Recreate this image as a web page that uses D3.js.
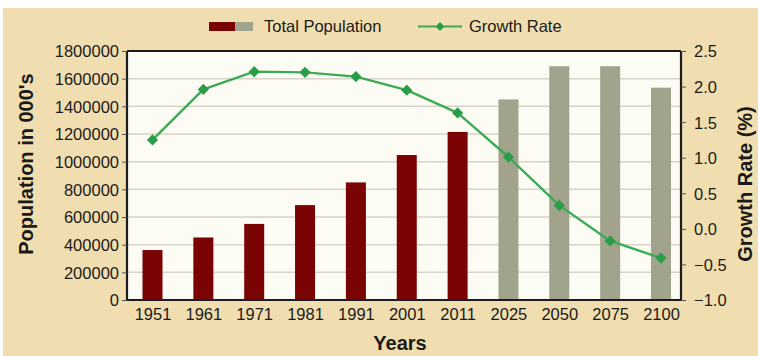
<!DOCTYPE html>
<html>
<head>
<meta charset="utf-8">
<script src="https://cdn.jsdelivr.net/npm/d3@7"></script>
<style>
  html, body { margin: 0; padding: 0; background: #ffffff; }
  svg { display: block; font-family: "Liberation Sans", Arial, sans-serif; }
</style>
</head>
<body>
<svg id="chart" width="758" height="356"></svg>
<script>
// Census years and projections
const years = ["1951", "1961", "1971", "1981", "1991", "2001", "2011", "2025", "2050", "2075", "2100"];
// Total population in thousands
const population = [361000, 452000, 550000, 686000, 850000, 1048000, 1215000, 1450000, 1690000, 1690000, 1535000];
// Annual growth rate in percent
const growthRate = [1.25, 1.96, 2.21, 2.20, 2.14, 1.95, 1.63, 1.01, 0.33, -0.17, -0.41];
// Years from 2025 onward are projections
const projected = [false, false, false, false, false, false, false, true, true, true, true];
const popTicks = [0, 200000, 400000, 600000, 800000, 1000000, 1200000, 1400000, 1600000, 1800000];
const rateTicks = [-1.0, -0.5, 0.0, 0.5, 1.0, 1.5, 2.0, 2.5];

const svg = d3.select("#chart");
const W = 758, H = 356;
const plot = { left: 127, right: 681, top: 51, bottom: 300 };

const colors = {
  page: "#f1deb0",
  plotBg: "#fdfcf4",
  grid: "#d6d4c8",
  axis: "#1c1c1c",
  actual: "#7a0304",
  projected: "#a1a38d",
  line: "#3cab55",
  marker: "#2a9d48",
  text: "#1a1a1a"
};

// Page background with a thin white margin at top and left
svg.append("rect").attr("x", 0).attr("y", 0).attr("width", W).attr("height", H).attr("fill", "#ffffff");
svg.append("rect").attr("x", 3).attr("y", 8).attr("width", W - 3).attr("height", H - 8).attr("fill", colors.page);

const x = d3.scalePoint().domain(years).range([152.5, 661]);
const yPop = d3.scaleLinear().domain([0, 1800000]).range([plot.bottom, plot.top]);
const yRate = d3.scaleLinear().domain([-1, 2.5]).range([plot.bottom, plot.top]);

// Plot area
svg.append("rect")
  .attr("x", plot.left).attr("y", plot.top)
  .attr("width", plot.right - plot.left).attr("height", plot.bottom - plot.top)
  .attr("fill", colors.plotBg);

// Horizontal gridlines
svg.append("g")
  .selectAll("line")
  .data(popTicks.slice(1, -1))
  .join("line")
  .attr("x1", plot.left).attr("x2", plot.right)
  .attr("y1", d => yPop(d)).attr("y2", d => yPop(d))
  .attr("stroke", colors.grid).attr("stroke-width", 1.5);

// Population bars
const barW = 20;
svg.append("g")
  .selectAll("rect")
  .data(years.map((yr, i) => ({ yr, v: population[i], p: projected[i] })))
  .join("rect")
  .attr("x", d => x(d.yr) - barW / 2)
  .attr("width", barW)
  .attr("y", d => yPop(d.v))
  .attr("height", d => plot.bottom - yPop(d.v))
  .attr("fill", d => d.p ? colors.projected : colors.actual);

// Growth rate line
const rateData = years.map((yr, i) => ({ yr, v: growthRate[i] }));
svg.append("path")
  .datum(rateData)
  .attr("fill", "none")
  .attr("stroke", colors.line)
  .attr("stroke-width", 2.4)
  .attr("stroke-linejoin", "round")
  .attr("d", d3.line().x(d => x(d.yr)).y(d => yRate(d.v)));

const diamond = d3.symbol().type(d3.symbolDiamond2).size(80);
svg.append("g")
  .selectAll("path")
  .data(rateData)
  .join("path")
  .attr("transform", d => `translate(${x(d.yr)},${yRate(d.v)})`)
  .attr("d", diamond)
  .attr("fill", colors.marker);

// Frame top
svg.append("line")
  .attr("x1", plot.left).attr("x2", plot.right)
  .attr("y1", plot.top).attr("y2", plot.top)
  .attr("stroke", colors.axis).attr("stroke-width", 2);

// Left axis
const leftAxis = d3.axisLeft(yPop).tickValues(popTicks).tickFormat(d3.format("d")).tickSize(5).tickPadding(3);
const gl = svg.append("g").attr("transform", `translate(${plot.left},0)`).call(leftAxis);
gl.select(".domain").attr("stroke", colors.axis).attr("stroke-width", 2.2).attr("d", `M0,${plot.top}V${plot.bottom}`);
gl.selectAll(".tick line").attr("stroke", "#555");
gl.selectAll(".tick text").attr("fill", colors.text).style("font-size", "16.5px").attr("dy", "0.36em");

// Right axis
const rightAxis = d3.axisRight(yRate).tickValues(rateTicks).tickFormat(d3.format(".1f")).tickSize(5).tickPadding(8);
const gr = svg.append("g").attr("transform", `translate(${plot.right},0)`).call(rightAxis);
gr.select(".domain").attr("stroke", colors.axis).attr("stroke-width", 2.2).attr("d", `M0,${plot.top}V${plot.bottom}`);
gr.selectAll(".tick line").attr("stroke", "#555");
gr.selectAll(".tick text").attr("fill", colors.text).style("font-size", "16.5px").attr("dy", "0.36em");

// Bottom axis
const bottomAxis = d3.axisBottom(x).tickSize(0).tickPadding(8);
const gb = svg.append("g").attr("transform", `translate(0,${plot.bottom})`).call(bottomAxis);
gb.select(".domain").attr("stroke", colors.axis).attr("stroke-width", 2.2).attr("d", `M${plot.left},0H${plot.right}`);
gb.selectAll(".tick text").attr("fill", colors.text).style("font-size", "16.5px");

// Axis titles
svg.append("text")
  .attr("x", 400).attr("y", 350)
  .attr("text-anchor", "middle")
  .attr("fill", colors.text)
  .style("font-size", "20px").style("font-weight", "bold")
  .text("Years");

svg.append("text")
  .attr("transform", "translate(33,164) rotate(-90)")
  .attr("text-anchor", "middle")
  .attr("fill", colors.text)
  .style("font-size", "20px").style("font-weight", "bold")
  .text("Population in 000's");

svg.append("text")
  .attr("transform", "translate(752,184) rotate(-90)")
  .attr("text-anchor", "middle")
  .attr("fill", colors.text)
  .style("font-size", "20px").style("font-weight", "bold")
  .text("Growth Rate (%)");

// Legend
const lg = svg.append("g");
lg.append("rect").attr("x", 209).attr("y", 22).attr("width", 26).attr("height", 9).attr("fill", colors.actual);
lg.append("rect").attr("x", 235).attr("y", 22).attr("width", 18).attr("height", 9).attr("fill", colors.projected);
lg.append("text").attr("x", 264).attr("y", 32).attr("fill", colors.text)
  .style("font-size", "16.5px").text("Total Population");
lg.append("line").attr("x1", 418).attr("x2", 462).attr("y1", 26.5).attr("y2", 26.5)
  .attr("stroke", colors.line).attr("stroke-width", 2);
lg.append("path").attr("transform", "translate(440,26.5)").attr("d", d3.symbol().type(d3.symbolDiamond2).size(50))
  .attr("fill", colors.marker);
lg.append("text").attr("x", 469).attr("y", 32).attr("fill", colors.text)
  .style("font-size", "16.5px").text("Growth Rate");
</script>
</body>
</html>
